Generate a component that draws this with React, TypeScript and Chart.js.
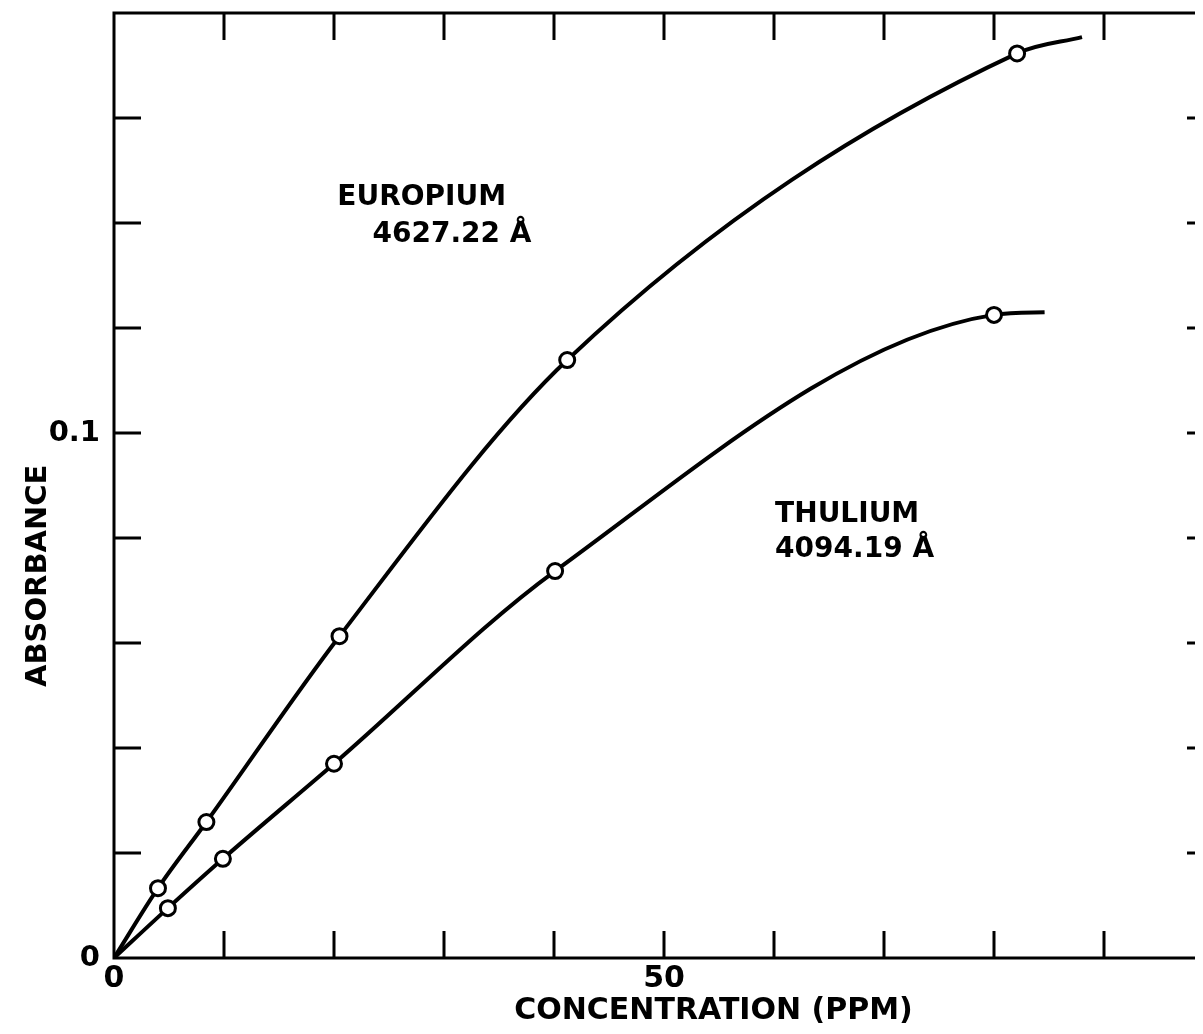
import React, { useEffect, useRef } from 'react';
import { Chart, registerables } from 'chart.js';

Chart.register(...registerables);

// ---- axes ----
const xRange = [0, 100];
const xTickStep = 10;
const yRange = [0, 0.18];
const yTickStep = 0.02;
const xLabeledTicks = [0, 50];
const xTickLabels = ['0', '50'];
const yLabeledTicks = [0, 0.1];
const yTickLabels = ['0', '0.1'];
const xTitle = 'CONCENTRATION (PPM)';
const yTitle = 'ABSORBANCE';

// ---- Europium 4627.22 Å ----
const euConc = [4.0, 8.4, 20.5, 41.2, 82.1];
const euAbs = [0.0133, 0.0259, 0.0613, 0.1139, 0.1723];
const euCurveEnd = [88.0, 0.1754];

// ---- Thulium 4094.19 Å ----
const tmConc = [4.9, 9.9, 20.0, 40.1, 80.0];
const tmAbs = [0.0095, 0.0189, 0.037, 0.0737, 0.1225];
const tmCurveEnd = [84.6, 0.123];

// ---- curve labels (left edge, baseline) ----
const noteTexts = ['EUROPIUM', '4627.22 Å', 'THULIUM', '4094.19 Å'];
const noteConc = [20.3, 23.5, 60.1, 60.1];
const noteAbs = [0.1434, 0.1364, 0.083, 0.0764];
// axis-title anchors
const yTitleAbs = 0.0728;
const xTitleConc = 54.5;

const FONT = "'DejaVu Sans', 'Liberation Sans', sans-serif";
const INK = '#000';

const near = (a: number, b: number) => Math.abs(a - b) < 1e-6;

function labelFor(v: number, ticks: number[], labels: string[]) {
  for (let i = 0; i < ticks.length; i++) if (near(v, ticks[i])) return labels[i];
  return '';
}

export default function App() {
  const ref = useRef<HTMLCanvasElement>(null);

  useEffect(() => {
    const canvas = ref.current;
    if (!canvas) return;

    const framePlugin = {
      id: 'frameTicks',
      beforeDatasetsDraw(chart: any) {
        const { ctx, chartArea: a, scales } = chart;
        const L = 27;
        ctx.save();
        ctx.strokeStyle = INK;
        ctx.lineWidth = 3;
        ctx.strokeRect(a.left, a.top, a.right - a.left, a.bottom - a.top);
        ctx.beginPath();
        for (const t of scales.x.ticks) {
          if (t.value <= xRange[0] + 1e-6 || t.value >= xRange[1] - 1e-6) continue;
          const px = scales.x.getPixelForValue(t.value);
          ctx.moveTo(px, a.bottom);
          ctx.lineTo(px, a.bottom - L);
          ctx.moveTo(px, a.top);
          ctx.lineTo(px, a.top + L);
        }
        for (const t of scales.y.ticks) {
          if (t.value <= yRange[0] + 1e-6 || t.value >= yRange[1] - 1e-6) continue;
          const py = scales.y.getPixelForValue(t.value);
          ctx.moveTo(a.left, py);
          ctx.lineTo(a.left + L, py);
          ctx.moveTo(a.right, py);
          ctx.lineTo(a.right - L, py);
        }
        ctx.stroke();
        ctx.restore();
      },
      afterDatasetsDraw(chart: any) {
        const { ctx, chartArea: a, scales } = chart;
        ctx.save();
        ctx.fillStyle = INK;
        ctx.font = `bold 28px ${FONT}`;
        ctx.textAlign = 'left';
        ctx.textBaseline = 'alphabetic';
        for (let i = 0; i < noteTexts.length; i++) {
          ctx.fillText(
            noteTexts[i],
            scales.x.getPixelForValue(noteConc[i]),
            scales.y.getPixelForValue(noteAbs[i])
          );
        }
        // x-axis title
        ctx.font = `bold 30px ${FONT}`;
        ctx.textAlign = 'center';
        ctx.textBaseline = 'middle';
        ctx.fillText(xTitle, scales.x.getPixelForValue(xTitleConc), a.bottom + 53);
        // y-axis title
        ctx.font = `bold 29px ${FONT}`;
        ctx.translate(a.left - 76, scales.y.getPixelForValue(yTitleAbs));
        ctx.rotate(-Math.PI / 2);
        ctx.fillText(yTitle, 0, 0);
        ctx.restore();
      },
    };

    const pts = (xs: number[], ys: number[]) => xs.map((x, i) => ({ x, y: ys[i] }));
    const curve = (xs: number[], ys: number[], end: number[]) => [
      { x: 0, y: 0 },
      ...pts(xs, ys),
      { x: end[0], y: end[1] },
    ];

    const markerStyle = {
      showLine: false,
      pointRadius: 7.5,
      pointBorderWidth: 3,
      pointBackgroundColor: '#fff',
      pointBorderColor: INK,
      borderColor: INK,
      order: 0,
    };
    const lineStyle = {
      borderColor: INK,
      borderWidth: 4,
      pointRadius: 0,
      cubicInterpolationMode: 'monotone' as const,
      fill: false,
      order: 1,
    };

    const chart = new Chart(canvas, {
      type: 'line',
      data: {
        datasets: [
          { label: 'Europium points', data: pts(euConc, euAbs), ...markerStyle },
          { label: 'Thulium points', data: pts(tmConc, tmAbs), ...markerStyle },
          { label: 'Europium 4627.22 Å', data: curve(euConc, euAbs, euCurveEnd), ...lineStyle },
          { label: 'Thulium 4094.19 Å', data: curve(tmConc, tmAbs, tmCurveEnd), ...lineStyle },
        ],
      },
      options: {
        animation: false,
        responsive: false,
        maintainAspectRatio: false,
        events: [],
        layout: { autoPadding: false, padding: { left: 0, top: 5, right: 34, bottom: 0 } },
        plugins: { legend: { display: false }, tooltip: { enabled: false } },
        scales: {
          x: {
            type: 'linear',
            min: xRange[0],
            max: xRange[1],
            grid: { display: false, drawTicks: false },
            border: { display: false },
            ticks: {
              stepSize: xTickStep,
              autoSkip: false,
              maxRotation: 0,
              padding: 6,
              color: INK,
              font: { family: FONT, size: 30, weight: 'bold', lineHeight: 1 },
              callback: (v: any) => labelFor(Number(v), xLabeledTicks, xTickLabels),
            },
            afterFit: (s: any) => {
              s.height = 68;
              s.paddingLeft = 0;
              s.paddingRight = 0;
              s.paddingTop = 0;
              s.paddingBottom = 0;
            },
          },
          y: {
            type: 'linear',
            min: yRange[0],
            max: yRange[1],
            grid: { display: false, drawTicks: false },
            border: { display: false },
            ticks: {
              stepSize: yTickStep,
              autoSkip: false,
              padding: 14,
              color: INK,
              font: { family: FONT, size: 29, weight: 'bold', lineHeight: 1 },
              callback: (v: any) => labelFor(Number(v), yLabeledTicks, yTickLabels),
            },
            afterFit: (s: any) => {
              s.width = 106;
              s.paddingTop = 0;
              s.paddingBottom = 0;
              s.paddingLeft = 0;
              s.paddingRight = 0;
            },
          },
        },
      },
      plugins: [framePlugin],
    });

    return () => chart.destroy();
  }, []);

  return (
    <div style={{ width: 1195, height: 1018, overflow: 'hidden' }}>
      <canvas ref={ref} width={1240} height={1018} style={{ display: 'block' }} />
    </div>
  );
}
